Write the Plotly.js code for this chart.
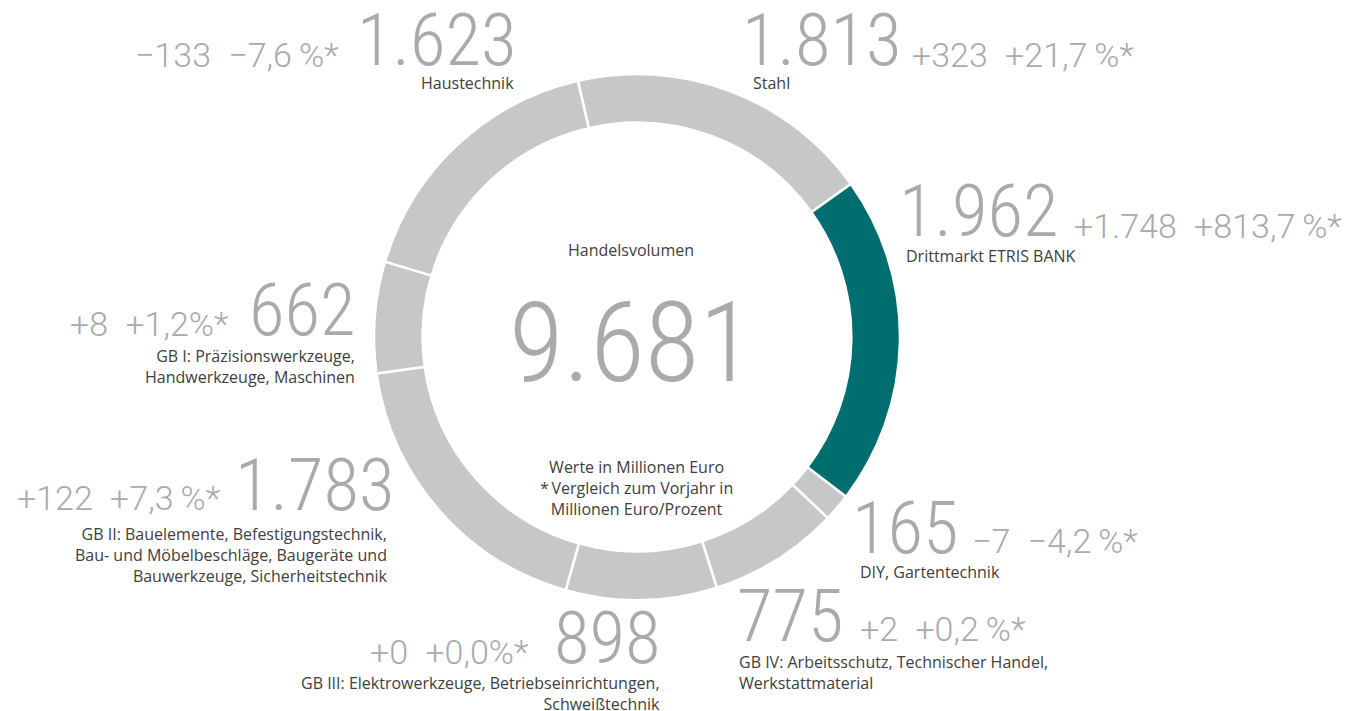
<!DOCTYPE html>
<html>
<head>
<meta charset="utf-8">
<script src="https://cdn.plot.ly/plotly-3.0.1.min.js"></script>
<style>html,body{margin:0;padding:0;background:#fff;}#chart{width:1365px;height:711px;}</style>
</head>
<body>
<div id="chart"></div>
<script>
// ---- data ----
const categories = ["Stahl", "Drittmarkt ETRIS BANK", "DIY, Gartentechnik",
  "GB IV: Arbeitsschutz, Technischer Handel,<br>Werkstattmaterial",
  "GB III: Elektrowerkzeuge, Betriebseinrichtungen,<br>Schweißtechnik",
  "GB II: Bauelemente, Befestigungstechnik,<br>Bau- und Möbelbeschläge, Baugeräte und<br>Bauwerkzeuge, Sicherheitstechnik",
  "GB I: Präzisionswerkzeuge,<br>Handwerkzeuge, Maschinen",
  "Haustechnik"];
const values = [1813, 1962, 165, 775, 898, 1783, 662, 1623];
const valueLabels = ["1.813", "1.962", "165", "775", "898", "1.783", "662", "1.623"];
const changeAbs = ["+323", "+1.748", "\u22127", "+2", "+0", "+122", "+8", "\u2212133"];
const changePct = ["+21,7\u2009%*", "+813,7\u2009%*", "\u22124,2\u2009%*", "+0,2\u2009%*", "+0,0%*", "+7,3\u2009%*", "+1,2%*", "\u22127,6\u2009%*"];
const highlight = "Drittmarkt ETRIS BANK";
const totalLabel = "9.681";
const centerTitle = "Handelsvolumen";
const centerNote = "Werte in Millionen Euro<br>*\u2009Vergleich zum Vorjahr in<br>Millionen Euro/Prozent";

// ---- layout helpers ----
const W = 1365, H = 711;
const px = x => x / W;
const py = y => 1 - y / H;
const GREY_TXT = "#a9aaaa";
const DARK_TXT = "#404040";
const BIG = "Roboto Condensed, Roboto, sans-serif";
const MID = "Roboto, sans-serif";
const SMALL = "Open Sans, Noto Sans, sans-serif";

// label placement per category index: side 'L' (right-aligned) or 'R' (left-aligned)
const place = [
  {side:"R", bx:740, by:40, cx:910, cy:55, lx:751, ly:81},   // Stahl
  {side:"R", bx:897, by:211, cx:1072, cy:226, lx:904, ly:254}, // Drittmarkt
  {side:"R", bx:850, by:528, cx:970, cy:541, lx:858, ly:570},  // DIY
  {side:"R", bx:735, by:616, cx:858, cy:629, lx:737, ly:660},  // GB IV
  {side:"L", bx:663, by:638, cx:530, cy:652, lx:662, ly:681},  // GB III
  {side:"L", bx:396, by:485, cx:222, cy:498, lx:390, ly:532},  // GB II
  {side:"L", bx:358, by:310, cx:230, cy:324, lx:357, ly:354},  // GB I
  {side:"L", bx:518, by:40, cx:340, cy:55, lx:516, ly:81}      // Haustechnik
];

const annotations = [];
categories.forEach((c, i) => {
  const p = place[i];
  const anchor = p.side === "R" ? "left" : "right";
  annotations.push({xref:"paper", yref:"paper", x:px(p.bx), y:py(p.by), xanchor:anchor, yanchor:"middle",
    text:valueLabels[i], showarrow:false, font:{family:BIG, size:73, weight:300, color:GREY_TXT}});
  annotations.push({xref:"paper", yref:"paper", x:px(p.cx), y:py(p.cy), xanchor:anchor, yanchor:"middle",
    text:changeAbs[i] + "\u2002" + changePct[i], showarrow:false, font:{family:MID, size:34, weight:300, color:GREY_TXT}});
  annotations.push({xref:"paper", yref:"paper", x:px(p.lx), y:py(p.ly), xanchor:anchor, yanchor:"top",
    yshift:11, text:c, align:anchor, showarrow:false, font:{family:SMALL, size:16, color:DARK_TXT}});
});
annotations.push({xref:"paper", yref:"paper", x:px(631), y:py(250), xanchor:"center", yanchor:"middle",
  text:centerTitle, showarrow:false, font:{family:SMALL, size:16, color:DARK_TXT}});
annotations.push({xref:"paper", yref:"paper", x:px(631), y:py(343), xanchor:"center", yanchor:"middle",
  text:totalLabel, showarrow:false, font:{family:BIG, size:112, weight:300, color:GREY_TXT}});
annotations.push({xref:"paper", yref:"paper", x:px(636), y:py(488), xanchor:"center", yanchor:"middle",
  text:centerNote, showarrow:false, font:{family:SMALL, size:16, color:DARK_TXT}});

const colors = categories.map(c => c === highlight ? "#006e6f" : "#c6c8c7");

const trace = {
  type:"pie", values:values, labels:categories, sort:false, direction:"clockwise",
  rotation:-13, hole:0.815, textinfo:"none", hoverinfo:"skip",
  marker:{colors:colors, line:{color:"#ffffff", width:2.5}},
  domain:{x:[px(637-263), px(637+263)], y:[py(337+263), py(337-263)]}
};

Plotly.newPlot("chart", [trace], {
  width:W, height:H, margin:{l:0, r:0, t:0, b:0}, showlegend:false,
  paper_bgcolor:"#fff", plot_bgcolor:"#fff", annotations:annotations
}, {staticPlot:true});
</script>
</body>
</html>
